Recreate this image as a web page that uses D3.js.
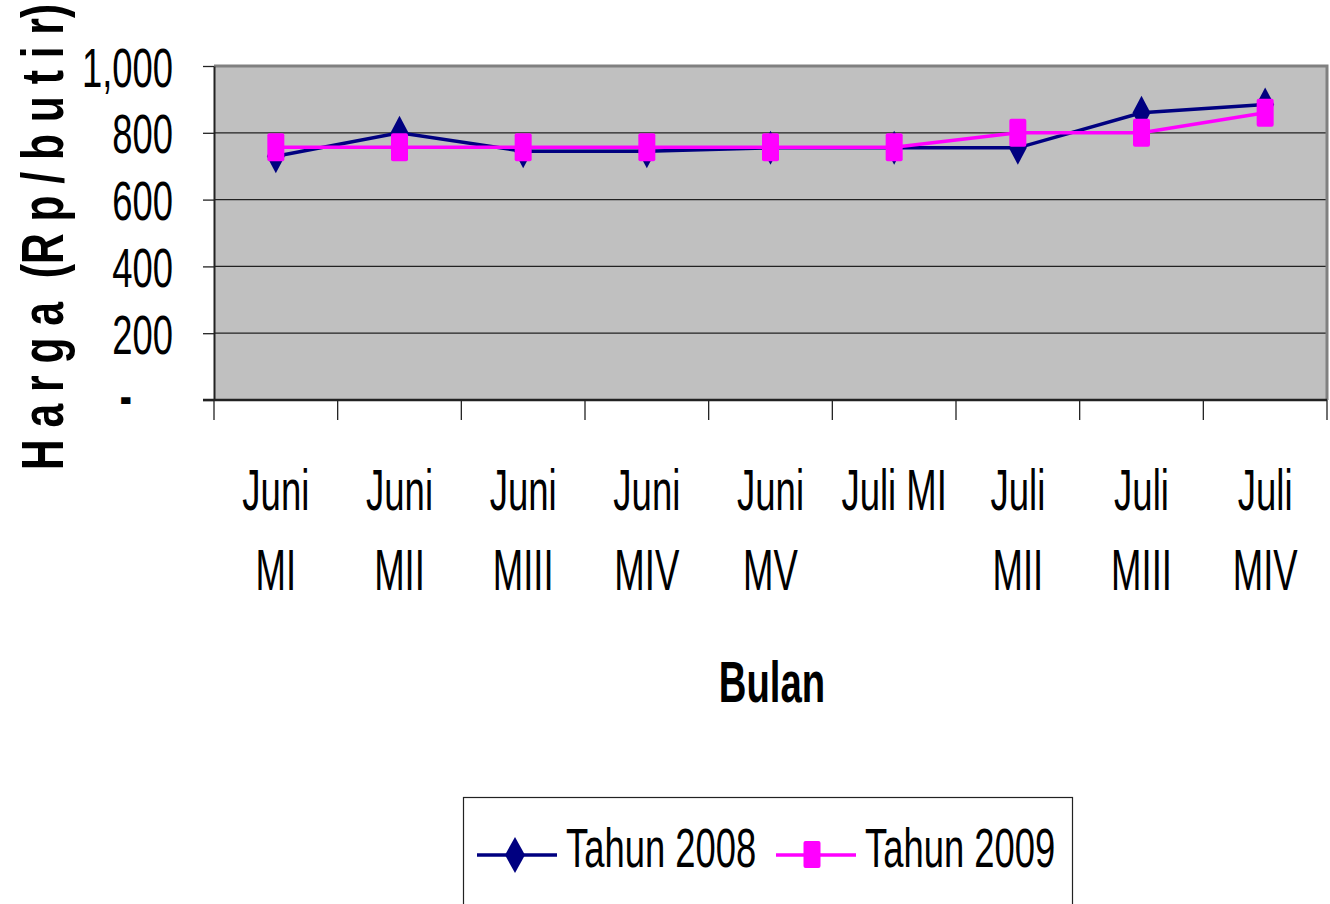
<!DOCTYPE html>
<html>
<head>
<script src="https://d3js.org/d3.v7.min.js"></script>
<style>
  body { margin: 0; background: #fff; }
  text { font-family: "Liberation Sans Narrow", "Arial Narrow", "Liberation Sans", sans-serif; }
</style>
</head>
<body>
<script>
// categories (two-line labels)
var categories = ["Juni MI", "Juni MII", "Juni MIII", "Juni MIV", "Juni MV", "Juli MI", "Juli MII", "Juli MIII", "Juli MIV"];
var labelLines = [["Juni", "MI"], ["Juni", "MII"], ["Juni", "MIII"], ["Juni", "MIV"], ["Juni", "MV"], ["Juli MI"], ["Juli", "MII"], ["Juli", "MIII"], ["Juli", "MIV"]];
var tahun2008 = [730, 800, 745, 745, 755, 755, 755, 860, 885];
var tahun2009 = [757, 757, 757, 757, 757, 757, 800, 800, 860];
var yTicks = [0, 200, 400, 600, 800, 1000];
var seriesNames = ["Tahun 2008", "Tahun 2009"];

var W = 1330, H = 904;
var plot = {left: 214, right: 1327, top: 66, bottom: 400};
var SX = 0.65; // horizontal condensing of the text

var svg = d3.select("body").append("svg")
    .attr("width", W)
    .attr("height", H);

var x = d3.scaleBand().domain(categories).range([plot.left, plot.right]);
var y = d3.scaleLinear().domain([0, 1000]).range([plot.bottom, plot.top]);
var cx = d => x(d) + x.bandwidth() / 2;

// plot background
svg.append("rect")
    .attr("x", plot.left).attr("y", plot.top)
    .attr("width", plot.right - plot.left).attr("height", plot.bottom - plot.top)
    .attr("fill", "#c0c0c0");

// grid lines
svg.append("g").selectAll("line")
    .data(yTicks.filter(d => d > 0 && d < 1000))
  .enter().append("line")
    .attr("x1", plot.left).attr("x2", plot.right)
    .attr("y1", d => y(d)).attr("y2", d => y(d))
    .attr("stroke", "#222").attr("stroke-width", 1.3);

// top / right frame
svg.append("path")
    .attr("d", "M" + plot.left + "," + plot.top + "H" + plot.right + "V" + plot.bottom)
    .attr("fill", "none").attr("stroke", "#808080").attr("stroke-width", 3);

// y axis
var yAxis = svg.append("g")
    .attr("transform", "translate(" + plot.left + ",0)")
    .call(d3.axisLeft(y).tickValues(yTicks).tickSize(11).tickSizeOuter(0)
      .tickFormat(d => d === 0 ? "-" : d3.format(",")(d)));
yAxis.select(".domain").attr("stroke", "#222").attr("stroke-width", 2);
yAxis.selectAll(".tick line").attr("stroke", "#222").attr("stroke-width", 1.3);
yAxis.selectAll(".tick text")
    .attr("x", -41 / SX)
    .attr("dy", "0.36em")
    .attr("transform", "scale(" + SX + ",1)")
    .style("font-size", "56px")
    .attr("fill", "#000");
yAxis.selectAll(".tick text").filter(d => d === 0)
    .attr("x", -82 / SX)
    .attr("dy", "0.25em")
    .style("font-weight", "bold");

// x axis
var xAxis = svg.append("g")
    .attr("transform", "translate(0," + plot.bottom + ")")
    .call(d3.axisBottom(x).tickSize(0).tickFormat(""));
xAxis.select(".domain").remove();
xAxis.append("line")
    .attr("x1", plot.left - 11).attr("x2", plot.right)
    .attr("stroke", "#222").attr("stroke-width", 2.5);
xAxis.selectAll(".bnd")
    .data(categories.concat(["end"]))
  .enter().append("line")
    .attr("x1", d => d === "end" ? plot.right : x(d))
    .attr("x2", d => d === "end" ? plot.right : x(d))
    .attr("y1", 0).attr("y2", 20)
    .attr("stroke", "#222").attr("stroke-width", 1.3);

// x labels
var xl = svg.append("g").selectAll("text")
    .data(categories)
  .enter().append("text")
    .attr("transform", d => "translate(" + cx(d) + ",510) scale(0.63,1)")
    .attr("text-anchor", "middle")
    .style("font-size", "58px")
    .attr("fill", "#000");
xl.selectAll("tspan")
    .data((d, i) => labelLines[i])
  .enter().append("tspan")
    .attr("x", 0)
    .attr("dy", (d, i) => i === 0 ? 0 : 80)
    .text(d => d);

// axis titles
svg.append("text")
    .attr("transform", "translate(772,702) scale(0.66,1)")
    .attr("text-anchor", "middle")
    .style("font-size", "58px").style("font-weight", "bold")
    .text("Bulan");
svg.append("text")
    .attr("transform", "translate(63,470) rotate(-90) scale(0.71,1)")
    .attr("text-anchor", "start")
    .style("font-size", "60px").style("font-weight", "bold")
    .attr("xml:space", "preserve")
    .text("H a r g a  (R p / b u t i r)");

// series
var line = d3.line().x((d, i) => cx(categories[i])).y(d => y(d));
var diamond = "M0,-17L9,0L0,17L-9,0Z";

svg.append("path").datum(tahun2008)
    .attr("d", line).attr("fill", "none")
    .attr("stroke", "#000080").attr("stroke-width", 3.5);
svg.append("g").selectAll("path")
    .data(tahun2008)
  .enter().append("path")
    .attr("transform", (d, i) => "translate(" + cx(categories[i]) + "," + y(d) + ")")
    .attr("d", diamond).attr("fill", "#000080");

svg.append("path").datum(tahun2009)
    .attr("d", line).attr("fill", "none")
    .attr("stroke", "#ff00ff").attr("stroke-width", 3.5);
svg.append("g").selectAll("rect")
    .data(tahun2009)
  .enter().append("rect")
    .attr("x", (d, i) => cx(categories[i]) - 8.5)
    .attr("y", d => y(d) - 14)
    .attr("width", 17).attr("height", 28).attr("rx", 2)
    .attr("fill", "#ff00ff");

// legend
var lg = svg.append("g");
lg.append("rect")
    .attr("x", 463.5).attr("y", 797.5).attr("width", 609).attr("height", 130)
    .attr("fill", "#fff").attr("stroke", "#222").attr("stroke-width", 1.2);
var legendItems = [
  {name: seriesNames[0], color: "#000080", x0: 477, type: "diamond"},
  {name: seriesNames[1], color: "#ff00ff", x0: 776, type: "square"}
];
legendItems.forEach(function(it) {
  lg.append("line")
      .attr("x1", it.x0).attr("x2", it.x0 + 80)
      .attr("y1", 855).attr("y2", 855)
      .attr("stroke", it.color).attr("stroke-width", 3.5);
  if (it.type === "diamond") {
    lg.append("path")
        .attr("transform", "translate(" + (it.x0 + 38) + ",855)")
        .attr("d", "M0,-18L10,0L0,18L-10,0Z").attr("fill", it.color);
  } else {
    lg.append("rect")
        .attr("x", it.x0 + 36 - 8.5).attr("y", 855 - 14)
        .attr("width", 17).attr("height", 27).attr("rx", 2)
        .attr("fill", it.color);
  }
  lg.append("text")
      .attr("transform", "translate(" + (it.x0 + 89) + ",867) scale(" + SX + ",1)")
      .style("font-size", "56px")
      .text(it.name);
});
</script>
</body>
</html>
